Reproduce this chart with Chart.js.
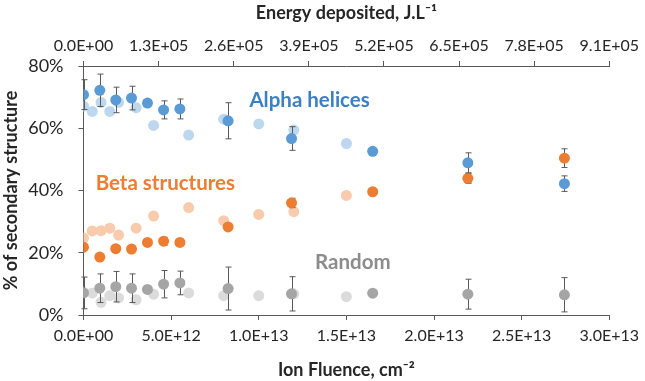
<!DOCTYPE html>
<html>
<head>
<meta charset="utf-8">
<script src="https://cdn.jsdelivr.net/npm/chart.js@4"></script>
<style>
  html, body { margin: 0; padding: 0; background: #fff; }
  #wrap { width: 645px; height: 381px; }
</style>
</head>
<body>
<div id="wrap"><canvas id="chartStructure" width="645" height="381"></canvas></div>
<script>
// fluence values, in units of 1E+12 ions/cm2
const fluenceMeasured = [0, 0.93, 1.84, 2.74, 3.65, 4.57, 5.5, 8.25, 11.87, 16.5, 21.93, 27.44];
const fluenceLight = [0, 0.5, 1.0, 1.5, 2.0, 3.0, 4.0, 6.0, 8.0, 10.0, 12.0, 15.0];

const alphaValues = [70.8, 72.2, 69.1, 69.7, 68.1, 65.9, 66.2, 62.4, 56.7, 52.6, 48.9, 42.2];
const alphaErrors = [4.8, 5.2, 4.1, 3.8, 0, 2.9, 3.2, 5.8, 3.8, 0, 3.2, 2.5];
const betaValues = [21.8, 18.6, 21.3, 21.2, 23.3, 23.7, 23.3, 28.3, 36.0, 39.6, 43.9, 50.4];
const betaErrors = [0, 0, 0, 0, 0, 1.3, 0, 0, 1.5, 0, 1.6, 3.0];
const randomValues = [7.1, 8.6, 9.1, 8.6, 8.2, 9.9, 10.3, 8.5, 6.8, 7.0, 6.7, 6.5];
const randomErrors = [5.1, 4.6, 4.9, 4.6, 0, 4.4, 3.8, 6.9, 5.5, 0, 4.8, 5.5];

const alphaLight = [67.1, 65.4, 68.3, 65.4, 68.3, 66.6, 60.9, 57.8, 62.9, 61.4, 59.4, 55.1];
const betaLight = [24.7, 27.0, 27.1, 27.9, 25.7, 27.9, 31.8, 34.5, 30.3, 32.3, 33.2, 38.4];
const randomLight = [7.3, 7.1, 4.1, 6.2, 5.5, 4.9, 6.7, 7.1, 6.2, 6.2, 6.8, 5.9];

// in-chart series labels (x in 1E+12, y in %)
const labelTexts = ['Alpha helices', 'Beta structures', 'Random'];
const labelX = [12.9, 4.67, 15.37];
const labelY = [68.8, 42.3, 17.0];
const labelColors = ['#3b7fc6', '#ed7d31', '#8c8c8c'];

const fontName = 'Lato, "Open Sans", sans-serif';
const textColor = '#262626';
const axisColor = '#595959';

function sci(v) {
  const parts = v.toExponential(1).split('e');
  const exp = parseInt(parts[1], 10);
  const sign = exp < 0 ? '-' : '+';
  return parts[0] + 'E' + sign + String(Math.abs(exp)).padStart(2, '0');
}

function pts(xs, ys) {
  return xs.map((x, i) => ({ x: x * 1e12, y: ys[i] }));
}

const errorMap = {};

function darkSet(label, ys, errs, color) {
  errorMap[label] = errs;
  return {
    label: label,
    data: pts(fluenceMeasured, ys),
    backgroundColor: color,
    borderColor: color,
    pointRadius: 5.5,
    pointHoverRadius: 5.5,
    borderWidth: 0,
    order: 0
  };
}

function lightSet(label, ys, color) {
  return {
    label: label,
    data: pts(fluenceLight, ys),
    backgroundColor: color,
    borderColor: color,
    pointRadius: 5.5,
    pointHoverRadius: 5.5,
    borderWidth: 0,
    order: 1
  };
}

const errorBars = {
  id: 'errorBars',
  beforeDatasetDraw(chart, args) {
    const ds = chart.data.datasets[args.index];
    const errs = errorMap[ds.label];
    if (!errs) return;
    const ctx = chart.ctx;
    const xs = chart.scales.x, ys = chart.scales.y;
    ctx.save();
    ctx.strokeStyle = '#595959';
    ctx.lineWidth = 1;
    ds.data.forEach((p, i) => {
      const e = errs[i];
      if (!e) return;
      const px = Math.round(xs.getPixelForValue(p.x)) + 0.5;
      const top = ys.getPixelForValue(p.y + e);
      const bot = ys.getPixelForValue(p.y - e);
      ctx.beginPath();
      ctx.moveTo(px, top); ctx.lineTo(px, bot);
      ctx.moveTo(px - 3, top); ctx.lineTo(px + 3, top);
      ctx.moveTo(px - 3, bot); ctx.lineTo(px + 3, bot);
      ctx.stroke();
    });
    ctx.restore();
  }
};

const seriesLabels = {
  id: 'seriesLabels',
  afterDatasetsDraw(chart) {
    const ctx = chart.ctx;
    ctx.save();
    ctx.font = 'bold 20.5px ' + fontName;
    ctx.textAlign = 'center';
    ctx.textBaseline = 'middle';
    labelTexts.forEach((t, i) => {
      ctx.fillStyle = labelColors[i];
      ctx.fillText(t, chart.scales.x.getPixelForValue(labelX[i] * 1e12), chart.scales.y.getPixelForValue(labelY[i]));
    });
    ctx.restore();
  }
};

const ctxStructure = document.getElementById('chartStructure').getContext('2d');

new Chart(ctxStructure, {
  type: 'scatter',
  data: {
    datasets: [
      darkSet('Alpha helices', alphaValues, alphaErrors, '#5b9bd5'),
      darkSet('Beta structures', betaValues, betaErrors, '#ed7d31'),
      darkSet('Random', randomValues, randomErrors, '#a5a5a5'),
      lightSet('Alpha helices (ref)', alphaLight, '#bdd7ee'),
      lightSet('Beta structures (ref)', betaLight, '#f8cbad'),
      lightSet('Random (ref)', randomLight, '#dbdbdb')
    ]
  },
  options: {
    responsive: false,
    animation: false,
    layout: { padding: { left: 0, right: 32, top: 0, bottom: 0 } },
    plugins: {
      legend: { display: false },
      tooltip: { enabled: false }
    },
    scales: {
      x: {
        type: 'linear',
        position: 'bottom',
        min: 0,
        max: 3e13,
        afterFit(scale) { scale.height = 66; },
        ticks: {
          stepSize: 5e12,
          color: textColor,
          font: { family: fontName, size: 16 },
          padding: 6,
          maxRotation: 0,
          callback: v => sci(v)
        },
        grid: { drawOnChartArea: false, drawTicks: true, tickLength: 5, color: axisColor },
        border: { display: true, color: axisColor },
        title: {
          display: true,
          text: 'Ion Fluence, cm\u207B\u00B2',
          color: textColor,
          font: { family: fontName, size: 18, weight: 'bold' },
          padding: { top: 2, bottom: 0 }
        }
      },
      x2: {
        type: 'linear',
        position: 'top',
        min: 0,
        max: 9.1e5,
        afterFit(scale) { scale.height = 66; },
        ticks: {
          stepSize: 1.3e5,
          color: textColor,
          font: { family: fontName, size: 16 },
          padding: 6,
          maxRotation: 0,
          callback: v => sci(v)
        },
        grid: { drawOnChartArea: false, drawTicks: true, tickLength: 5, color: axisColor },
        border: { display: true, color: axisColor },
        title: {
          display: true,
          text: 'Energy deposited, J.L\u207B\u00B9',
          color: textColor,
          font: { family: fontName, size: 18, weight: 'bold' },
          padding: { top: 2, bottom: 8 }
        }
      },
      y: {
        type: 'linear',
        position: 'left',
        min: 0,
        max: 80,
        afterFit(scale) { scale.width = 83.5; },
        ticks: {
          stepSize: 20,
          color: textColor,
          font: { family: fontName, size: 18 },
          padding: 15,
          callback: v => v + '%'
        },
        grid: { drawOnChartArea: false, drawTicks: true, tickLength: 5, color: axisColor },
        border: { display: true, color: axisColor },
        title: {
          display: true,
          text: '% of secondary structure',
          color: textColor,
          font: { family: fontName, size: 18, weight: 'bold' },
          padding: { top: 0, bottom: 0 }
        }
      }
    }
  },
  plugins: [errorBars, seriesLabels]
});
</script>
</body>
</html>
